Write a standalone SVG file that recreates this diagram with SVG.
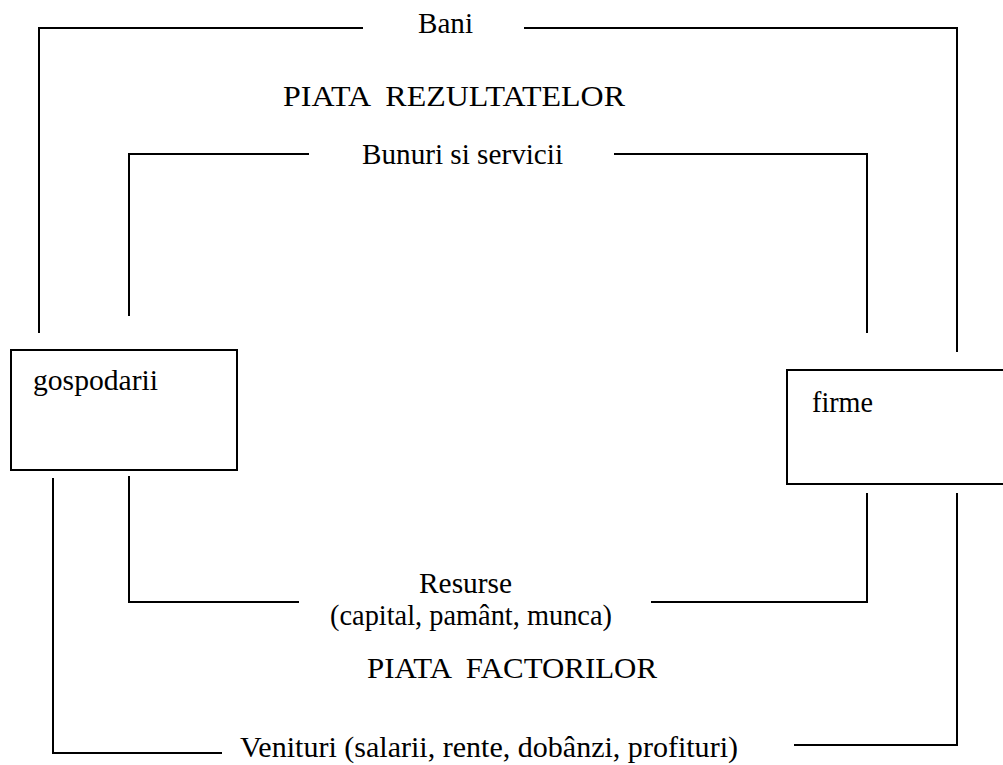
<svg xmlns="http://www.w3.org/2000/svg" width="1003" height="765" viewBox="0 0 1003 765">
<style>
.ln{fill:none;stroke:#000;stroke-width:2}
.box{fill:#fff;stroke:#000;stroke-width:2}
text{font-family:"Liberation Serif","Times New Roman",serif;font-size:30px;fill:#000;white-space:pre}
</style>
<rect width="1003" height="765" fill="#fff"/>
<g id="connectors">
<polyline class="ln" points="39,333 39,28 363,28"/>
<polyline class="ln" points="524,28 957,28 957,352"/>
<polyline class="ln" points="129,316 129,154 309,154"/>
<polyline class="ln" points="614,154 867,154 867,333"/>
<polyline class="ln" points="129,476 129,602 299,602"/>
<polyline class="ln" points="651,602 867,602 867,493"/>
<polyline class="ln" points="53,478 53,753 222,753"/>
<polyline class="ln" points="794,745 957,745 957,493"/>
</g>
<g id="labels">
<text x="418" y="33" textLength="55" lengthAdjust="spacingAndGlyphs">Bani</text>
<text x="283" y="106" textLength="342" lengthAdjust="spacingAndGlyphs">PIATA  REZULTATELOR</text>
<text x="362" y="164" textLength="201" lengthAdjust="spacingAndGlyphs">Bunuri si servicii</text>
<text x="419" y="593" textLength="93" lengthAdjust="spacingAndGlyphs">Resurse</text>
<text x="330" y="625" textLength="282" lengthAdjust="spacingAndGlyphs">(capital, pamânt, munca)</text>
<text x="367" y="678" textLength="290" lengthAdjust="spacingAndGlyphs">PIATA  FACTORILOR</text>
<text x="240" y="757" textLength="498" lengthAdjust="spacingAndGlyphs">Venituri (salarii, rente, dobânzi, profituri)</text>
</g>
<g id="gospodarii">
<rect class="box" x="11" y="350" width="226" height="120"/>
<text x="33" y="390" textLength="125" lengthAdjust="spacingAndGlyphs">gospodarii</text>
</g>
<g id="firme">
<rect class="box" x="787" y="370" width="230" height="114"/>
<text x="812" y="412" textLength="61" lengthAdjust="spacingAndGlyphs">firme</text>
</g>
</svg>
